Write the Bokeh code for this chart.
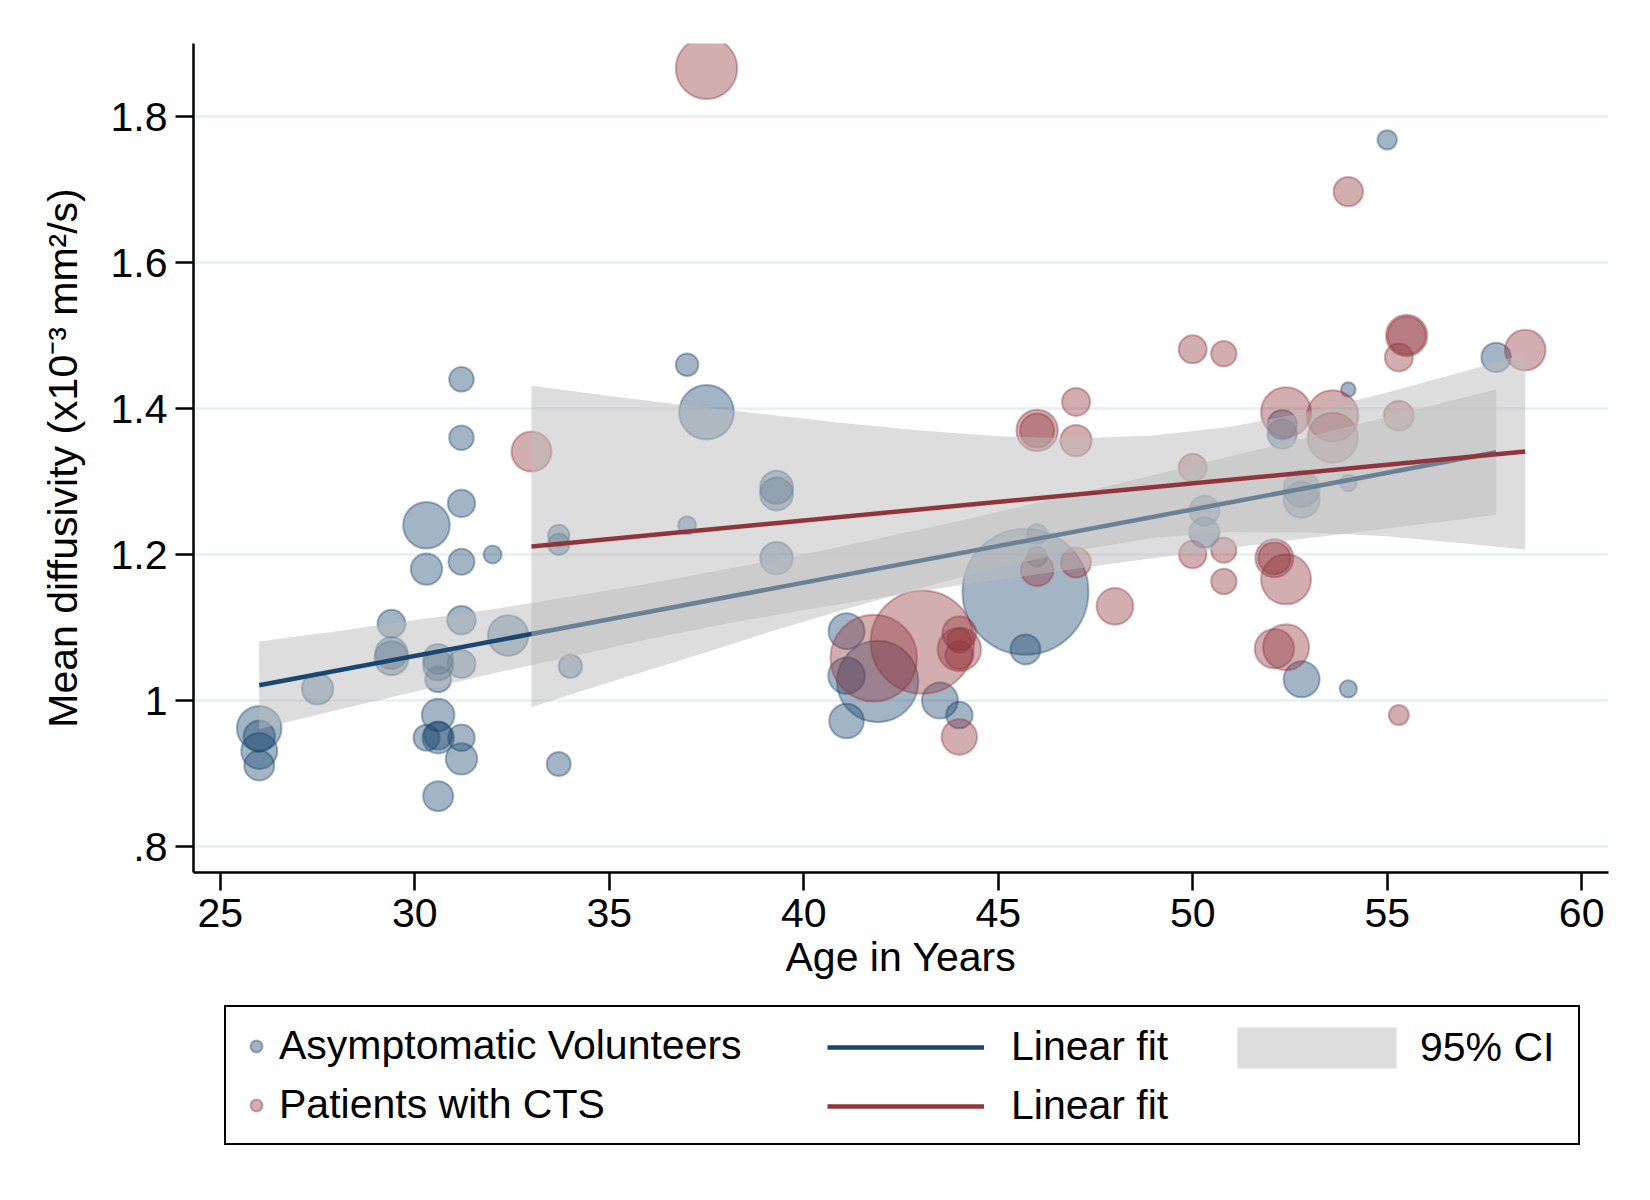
from bokeh.plotting import figure
from bokeh.layouts import column
from bokeh.models import (ColumnDataSource, FixedTicker, CustomJSTickFormatter,
                          Legend, LegendItem, Range1d)
from bokeh.embed import file_html
from bokeh.resources import INLINE

NAVY = "#1a476f"
MAROON = "#90353b"
BAND = "#bbbbbb"
FONT = "Liberation Sans"

# ---------------- data ----------------
vol_age = [31.2, 31.2, 37.0, 37.5, 55.0, 57.8, 54.0, 52.3, 52.3, 50.3,
           50.3, 52.8, 54.0, 52.8, 52.8, 54.0, 39.3, 39.3, 39.3, 37.0,
           45.7, 45.7, 46.0, 46.0, 41.9, 41.1, 41.1, 41.1, 43.5, 44.0,
           31.2, 30.3, 30.3, 31.2, 32.0, 33.7, 33.7, 29.4, 29.4, 29.4,
           31.2, 32.4, 30.6, 30.6, 30.6, 31.2, 27.5, 34.0, 26.0, 26.0,
           26.0, 26.0, 30.6, 30.6, 30.3, 31.2, 31.2, 33.7, 30.6, 30.6]
vol_md = [1.440, 1.360, 1.460, 1.395, 1.768, 1.470, 1.426, 1.378, 1.365, 1.260,
          1.230, 1.029, 1.016, 1.290, 1.275, 1.298, 1.292, 1.283, 1.195, 1.240,
          1.149, 1.070, 1.228, 1.197, 1.026, 1.095, 1.034, 0.972, 1.000, 0.980,
          1.270, 1.240, 1.180, 1.190, 1.200, 1.226, 1.214, 1.105, 1.065, 1.058,
          1.110, 1.089, 1.057, 1.048, 1.029, 1.050, 1.016, 1.047, 0.962, 0.951,
          0.931, 0.911, 0.980, 0.949, 0.949, 0.949, 0.920, 0.913, 0.869, 0.952]
vol_w = [13.3, 13.3, 12.3, 28.3, 10.7, 15.7, 8.3, 15.7, 15.7, 16.0,
         16.0, 19.0, 9.7, 19.0, 19.0, 9.3, 17.5, 17.5, 17.3, 10.0,
         64.0, 16.0, 11.0, 11.0, 41.7, 19.0, 19.3, 18.3, 19.0, 14.3,
         14.7, 24.3, 16.7, 14.0, 10.0, 11.7, 11.7, 15.0, 17.0, 18.0,
         15.3, 21.3, 16.0, 16.0, 14.0, 15.0, 16.7, 12.7, 23.3, 16.7,
         19.0, 16.0, 17.3, 16.7, 14.0, 14.3, 16.7, 13.0, 16.0, 15.0]

pat_age = [33.0, 37.5, 46.0, 46.0, 47.0, 47.0, 54.0, 50.0, 50.8, 55.5,
           55.5, 55.3, 58.55, 52.4, 53.6, 53.6, 55.3, 50.0, 50.0, 50.8,
           50.8, 52.1, 52.1, 52.4, 52.1, 52.4, 55.3, 46.0, 47.0, 48.0,
           43.05, 41.8, 44.0, 44.0, 44.0, 44.0, 44.0]
pat_md = [1.341, 1.866, 1.370, 1.370, 1.409, 1.356, 1.697, 1.481, 1.475, 1.500,
          1.500, 1.470, 1.480, 1.395, 1.390, 1.360, 1.390, 1.319, 1.200, 1.206,
          1.163, 1.195, 1.195, 1.166, 1.071, 1.073, 0.980, 1.179, 1.189, 1.129,
          1.080, 1.058, 0.950, 1.092, 1.070, 1.062, 1.082]
pat_w = [21.0, 31.7, 21.7, 18.0, 15.0, 16.7, 15.7, 15.0, 13.7, 21.7,
         20.0, 15.0, 21.3, 26.0, 26.7, 26.0, 16.0, 15.0, 14.7, 13.7,
         13.7, 20.0, 17.0, 26.0, 20.7, 24.0, 11.0, 17.3, 16.0, 19.3,
         52.7, 44.3, 18.7, 18.0, 22.7, 15.0, 13.0]

vfit_x = [26.0, 57.8]
vfit_y = [1.021, 1.340]
pfit_x = [33.0, 58.55]
pfit_y = [1.211, 1.341]

vci_x = [26, 28, 30, 32, 34, 36, 38, 40, 42, 44, 46, 48, 50, 52, 54, 56, 57.8]
vci_hi = [1.081, 1.095, 1.110, 1.125, 1.142, 1.160, 1.180, 1.200, 1.223,
          1.246, 1.271, 1.296, 1.322, 1.348, 1.375, 1.402, 1.426]
vci_lo = [0.961, 0.987, 1.012, 1.037, 1.060, 1.084, 1.105, 1.124, 1.141,
          1.158, 1.173, 1.188, 1.202, 1.216, 1.229, 1.242, 1.254]

pci_x = [33, 35, 37, 39, 41, 43, 45, 47, 49, 51, 53, 55, 57, 58.55]
pci_hi = [1.431, 1.417, 1.404, 1.392, 1.380, 1.370, 1.362, 1.359, 1.363,
          1.375, 1.396, 1.422, 1.451, 1.475]
pci_lo = [0.991, 1.025, 1.058, 1.092, 1.124, 1.154, 1.182, 1.205, 1.223,
          1.231, 1.230, 1.225, 1.215, 1.207]

xtick_vals = [25, 30, 35, 40, 45, 50, 55, 60]
ytick_vals = [0.8, 1.0, 1.2, 1.4, 1.6, 1.8]
ytick_labels = [".8", "1", "1.2", "1.4", "1.6", "1.8"]

x_title = "Age in Years"
y_title = "Mean diffusivity (x10\u207b\u00b3 mm\u00b2/s)"
leg_labels = ["Asymptomatic Volunteers", "Patients with CTS",
              "Linear fit", "Linear fit", "95% CI"]

# ---------------- main figure ----------------
W = 1630
BL, BR = 193, 22
p = figure(width=W, height=1003, output_backend="svg", toolbar_location=None,
           title=None,
           x_range=Range1d(24.31, 60.69), y_range=Range1d(0.7644, 1.90),
           min_border_left=BL, min_border_right=BR,
           min_border_top=43, min_border_bottom=131)
p.outline_line_color = None
p.background_fill_color = "white"
p.border_fill_color = "white"

p.xaxis.ticker = FixedTicker(ticks=xtick_vals)
p.yaxis.ticker = FixedTicker(ticks=ytick_vals)
p.yaxis.formatter = CustomJSTickFormatter(
    args=dict(vals=ytick_vals, labs=ytick_labels),
    code="""
for (let i = 0; i < vals.length; i++) {
  if (Math.abs(tick - vals[i]) < 1e-9) { return labs[i]; }
}
return '';
""")
for ax in (p.xaxis[0], p.yaxis[0]):
    ax.axis_line_color = "black"
    ax.axis_line_width = 2.5
    ax.major_tick_line_color = "black"
    ax.major_tick_line_width = 2.5
    ax.major_tick_out = 18
    ax.major_tick_in = 0
    ax.minor_tick_line_color = None
    ax.major_label_text_font = FONT
    ax.major_label_text_font_size = "41px"
    ax.major_label_text_color = "black"
    ax.axis_label_text_font = FONT
    ax.axis_label_text_font_size = "41px"
    ax.axis_label_text_font_style = "normal"
    ax.axis_label_text_color = "black"
p.xaxis.axis_label = x_title
p.yaxis.axis_label = y_title
p.xaxis.major_label_standoff = 8
p.yaxis.major_label_standoff = 8
p.xaxis.axis_label_standoff = 4
p.yaxis.axis_label_standoff = 22

p.xgrid.visible = False
p.ygrid.ticker = FixedTicker(ticks=ytick_vals)
p.ygrid.grid_line_color = "#e6eff2"
p.ygrid.grid_line_width = 2.5

# scatters
src_v = ColumnDataSource(dict(x=vol_age, y=vol_md, s=[2 * w - 2 for w in vol_w]))
src_p = ColumnDataSource(dict(x=pat_age, y=pat_md, s=[2 * w - 2 for w in pat_w]))
sty_v = dict(fill_color=NAVY, fill_alpha=0.4, line_color=NAVY, line_alpha=0.4, line_width=2)
sty_p = dict(fill_color=MAROON, fill_alpha=0.4, line_color=MAROON, line_alpha=0.4, line_width=2)
p.scatter("x", "y", size="s", source=src_v, marker="circle", **sty_v)
p.scatter("x", "y", size="s", source=src_p, marker="circle", **sty_p)

# fits with CI
sty_band = dict(fill_color=BAND, fill_alpha=0.5)
p.varea(x=vci_x, y1=vci_lo, y2=vci_hi, **sty_band)
p.line(vfit_x, vfit_y, line_color=NAVY, line_width=4.5)
p.varea(x=pci_x, y1=pci_lo, y2=pci_hi, **sty_band)
p.line(pfit_x, pfit_y, line_color=MAROON, line_width=4.5)

# ---------------- legend panel ----------------
q = figure(width=W, height=150, output_backend="svg", toolbar_location=None,
           title=None, x_axis_type=None, y_axis_type=None,
           x_range=Range1d(0, 1), y_range=Range1d(0, 1),
           min_border_left=BL, min_border_right=BR,
           min_border_top=0, min_border_bottom=0)
q.outline_line_color = None
q.background_fill_color = "white"
q.border_fill_color = "white"

# legend key renderers (no visible data; they only lend their style to the keys)
nan = float("nan")
key_src = ColumnDataSource(dict(x=[nan], y=[nan]))
kv = q.scatter(x="x", y="y", source=key_src, marker="circle", **sty_v)
kp = q.scatter(x="x", y="y", source=key_src, marker="circle", **sty_p)
klv = q.line(x="x", y="y", source=key_src, line_color=NAVY, line_width=4.5)
klp = q.line(x="x", y="y", source=key_src, line_color=MAROON, line_width=4.5)
kb = q.varea(x="x", y1="y", y2="y", source=key_src, **sty_band)

txt = dict(label_text_font=FONT, label_text_font_size="41px", label_text_color="black")
legA = Legend(items=[LegendItem(label=leg_labels[0], renderers=[kv]),
                     LegendItem(label=leg_labels[1], renderers=[kp])],
              location=(31, 8), orientation="vertical",
              glyph_width=30, glyph_height=46, label_height=46,
              label_width=1284, label_standoff=8, padding=15, spacing=12,
              margin=0, border_line_color="black", border_line_width=2.5,
              border_line_alpha=1.0,
              background_fill_color="white", background_fill_alpha=1.0, **txt)
legB = Legend(items=[LegendItem(label=leg_labels[2], renderers=[klv]),
                     LegendItem(label=leg_labels[3], renderers=[klp])],
              location=(634, 24), orientation="vertical",
              glyph_width=157, glyph_height=42, label_height=46,
              label_standoff=27, padding=0, spacing=12,
              margin=0, border_line_color=None, background_fill_alpha=0.0, **txt)
legC = Legend(items=[LegendItem(label=leg_labels[4], renderers=[kb])],
              location=(1024, 80), orientation="vertical",
              glyph_width=199, glyph_height=51, label_height=46,
              label_standoff=4, padding=0, spacing=0,
              margin=0, border_line_color=None, background_fill_alpha=0.0, **txt)
q.add_layout(legA, "center")
q.add_layout(legB, "center")
q.add_layout(legC, "center")

layout = column(p, q, spacing=0)
open("out.html", "w").write(file_html(layout, INLINE))
